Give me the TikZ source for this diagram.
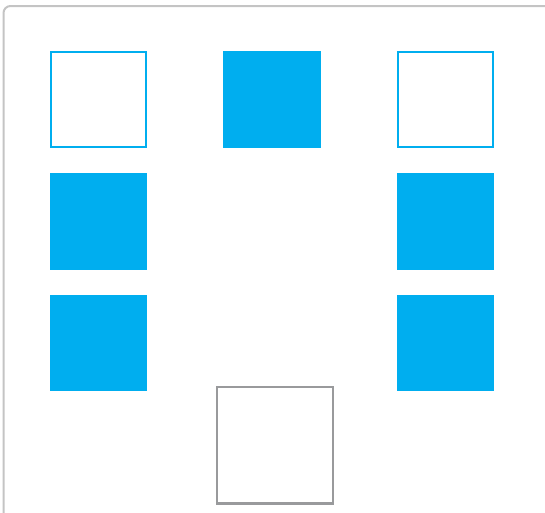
\documentclass[tikz,border=0pt]{standalone}
\definecolor{cblue}{HTML}{00AEEF}
\definecolor{cgray}{HTML}{999A9C}
\definecolor{cframe}{HTML}{C4C4C4}
\tikzset{
  outbox/.style={draw=cblue, line width=2pt, fill=white},
  fillbox/.style={fill=cblue, draw=none},
  graybox/.style={draw=cgray, line width=2.6pt, fill=white},
}
\begin{document}
\begin{tikzpicture}[x=1pt,y=-1pt]
\useasboundingbox (0,0) rectangle (545,512);
\begin{scope}
\clip (0,0) rectangle (545,512);
\draw[cframe, line width=2pt, rounded corners=7pt] (3.5,6) rectangle (552,520);
\end{scope}
\path[outbox] (51,52) rectangle (146,147);
\path[fillbox] (223,51) rectangle (321,148);
\path[outbox] (398,52) rectangle (493,147);
\path[fillbox] (50,173) rectangle (147,270);
\path[fillbox] (397,173) rectangle (494,270);
\path[fillbox] (50,295) rectangle (147,391);
\path[fillbox] (397,295) rectangle (494,391);
\path[graybox] (217,387) rectangle (333,503.5);
\end{tikzpicture}
\end{document}
